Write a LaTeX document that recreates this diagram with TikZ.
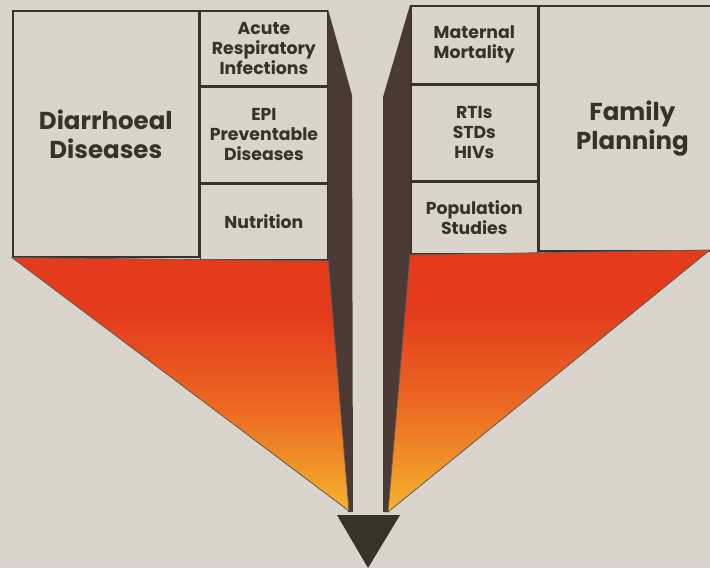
\documentclass[tikz,border=0pt]{standalone}
\usepackage{fontspec}
\setmainfont{Poppins}
\usetikzlibrary{positioning}
\definecolor{paper}{HTML}{D9D5CD}
\definecolor{ink}{HTML}{3A3128}
\definecolor{sidebrown}{HTML}{4A3934}
\definecolor{hotred}{HTML}{E33B1C}
\definecolor{warmorange}{HTML}{EC6A22}
\definecolor{sunyellow}{HTML}{F5B42E}
\pgfdeclareverticalshading{funnel}{100bp}{color(0bp)=(sunyellow); color(25bp)=(sunyellow);
  color(45bp)=(warmorange); color(64bp)=(hotred); color(100bp)=(hotred)}

\begin{document}
\begin{tikzpicture}[
      x=1pt, y=-1pt,
      cell/.style={draw=ink, line width=1.6pt, fill=paper, inner sep=0pt, align=center,
        text=ink, minimum width=127pt, font=\bfseries\fontsize{17.3}{20}\selectfont},
      bigcell/.style={cell, font=\bfseries\fontsize{24.5}{29}\selectfont},
      side/.style={fill=sidebrown},
      fan/.style={draw=ink!80, line width=0.8pt, shading=funnel, shading angle=0},
    ]
    \useasboundingbox (0,0) rectangle (710,568);
    \clip (0,0) rectangle (710,568);
    \fill[paper] (0,0) rectangle (710,568);

    % left block
    \node[bigcell, minimum width=186pt, minimum height=246pt, anchor=north west] (diarrhoea) at (12,10) {Diarrhoeal\\Diseases};
    \node[cell, minimum height=75pt, anchor=north west] (ari) at (diarrhoea.north east) {Acute\\Respiratory\\Infections};
    \node[cell, minimum height=95pt, below=0pt of ari] (epi) {EPI\\Preventable\\Diseases};
    \node[cell, minimum height=76pt, below=0pt of epi] (nutrition) {Nutrition};

    % right block
    \node[cell, minimum height=78pt, anchor=north west] (maternal) at (410,5) {Maternal\\Mortality};
    \node[cell, minimum height=95pt, below=0pt of maternal] (rti) {RTIs\\STDs\\HIVs};
    \node[cell, minimum height=72pt, below=0pt of rti] (population) {Population\\Studies};
    \node[bigcell, minimum width=186pt, minimum height=245pt, anchor=north west] (family) at (maternal.north east) {Family\\Planning};

    % side faces
    \fill[side] (ari.north east) -- (352,95) -- (353,512) -- (348,512) -- (nutrition.south east) -- cycle;
    \fill[side] (maternal.north west) -- (383,97) -- (383,512) -- (389,512) -- (population.south west) -- cycle;

    % funnels
    \shade[fan] (diarrhoea.south west) -- (nutrition.south east) -- (349,511) -- cycle;
    \shade[fan] (population.south west) -- (710,250) -- (388,512) -- cycle;

    % arrow head
    \fill[ink] (337,515) -- (400,515) -- (368,568) -- cycle;
  \end{tikzpicture}
\end{document}
